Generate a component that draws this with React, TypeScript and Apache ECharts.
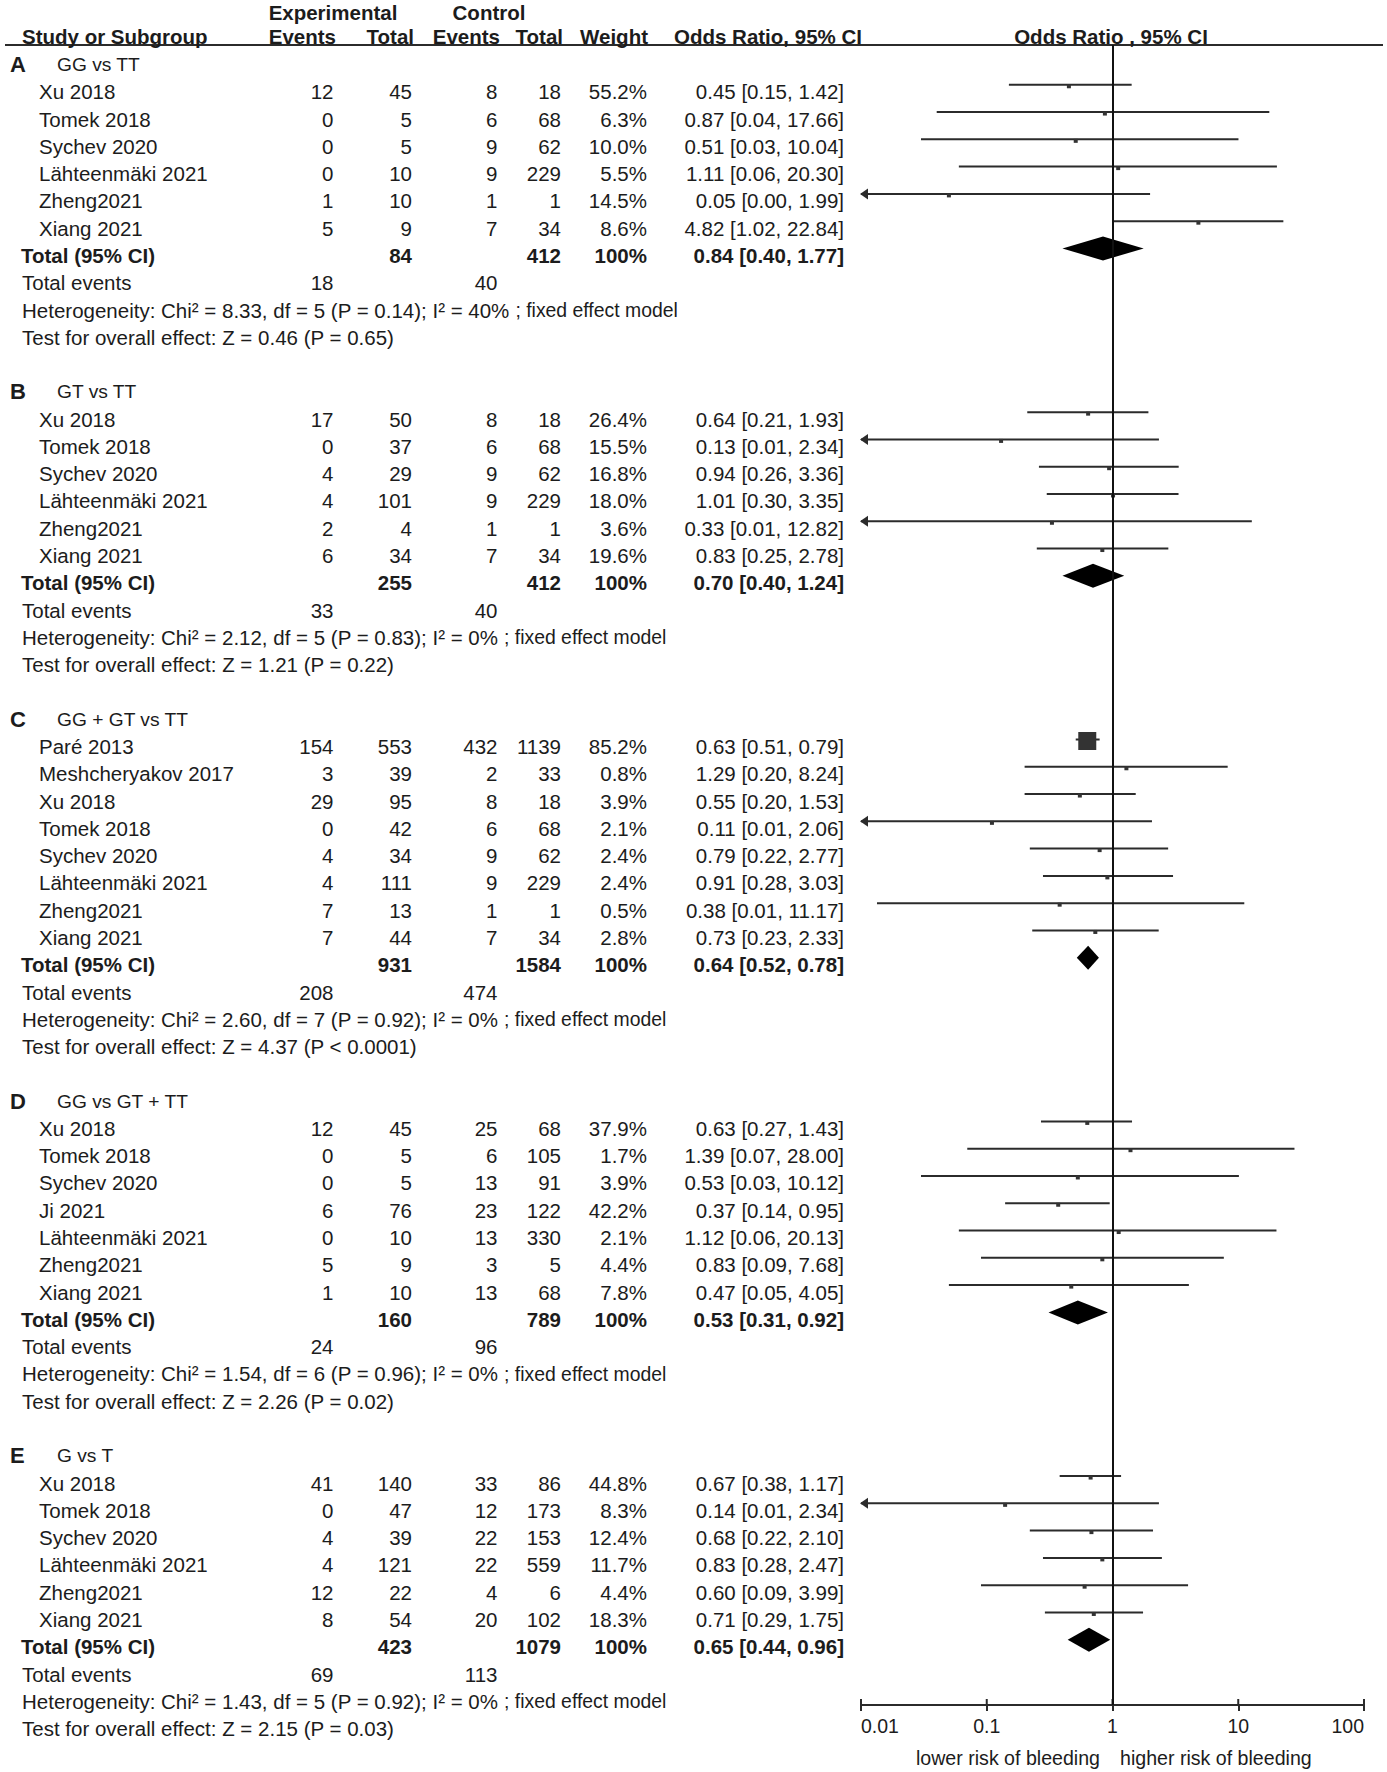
import React, { useEffect, useRef } from "react";
import * as echarts from "echarts";

// ---------------- data ----------------
const sectionLetters = ["A", "B", "C", "D", "E"];
const sectionTitles = ["GG vs TT", "GT vs TT", "GG + GT vs TT", "GG vs GT + TT", "G vs T"];

// A: GG vs TT
const studiesA = ["Xu 2018", "Tomek 2018", "Sychev 2020", "Lähteenmäki 2021", "Zheng2021", "Xiang 2021"];
const expEventsA = [12, 0, 0, 0, 1, 5];
const expTotalA = [45, 5, 5, 10, 10, 9];
const ctrlEventsA = [8, 6, 9, 9, 1, 7];
const ctrlTotalA = [18, 68, 62, 229, 1, 34];
const weightA = [55.2, 6.3, 10.0, 5.5, 14.5, 8.6];
const orA = [0.45, 0.87, 0.51, 1.11, 0.05, 4.82];
const loA = [0.15, 0.04, 0.03, 0.06, 0.004, 1.02];
const hiA = [1.42, 17.66, 10.04, 20.3, 1.99, 22.84];

// B: GT vs TT
const studiesB = ["Xu 2018", "Tomek 2018", "Sychev 2020", "Lähteenmäki 2021", "Zheng2021", "Xiang 2021"];
const expEventsB = [17, 0, 4, 4, 2, 6];
const expTotalB = [50, 37, 29, 101, 4, 34];
const ctrlEventsB = [8, 6, 9, 9, 1, 7];
const ctrlTotalB = [18, 68, 62, 229, 1, 34];
const weightB = [26.4, 15.5, 16.8, 18.0, 3.6, 19.6];
const orB = [0.64, 0.13, 0.94, 1.01, 0.33, 0.83];
const loB = [0.21, 0.008, 0.26, 0.3, 0.008, 0.25];
const hiB = [1.93, 2.34, 3.36, 3.35, 12.82, 2.78];

// C: GG + GT vs TT
const studiesC = ["Paré 2013", "Meshcheryakov 2017", "Xu 2018", "Tomek 2018", "Sychev 2020", "Lähteenmäki 2021", "Zheng2021", "Xiang 2021"];
const expEventsC = [154, 3, 29, 0, 4, 4, 7, 7];
const expTotalC = [553, 39, 95, 42, 34, 111, 13, 44];
const ctrlEventsC = [432, 2, 8, 6, 9, 9, 1, 7];
const ctrlTotalC = [1139, 33, 18, 68, 62, 229, 1, 34];
const weightC = [85.2, 0.8, 3.9, 2.1, 2.4, 2.4, 0.5, 2.8];
const orC = [0.63, 1.29, 0.55, 0.11, 0.79, 0.91, 0.38, 0.73];
const loC = [0.51, 0.2, 0.2, 0.007, 0.22, 0.28, 0.0134, 0.23];
const hiC = [0.79, 8.24, 1.53, 2.06, 2.77, 3.03, 11.17, 2.33];

// D: GG vs GT + TT
const studiesD = ["Xu 2018", "Tomek 2018", "Sychev 2020", "Ji 2021", "Lähteenmäki 2021", "Zheng2021", "Xiang 2021"];
const expEventsD = [12, 0, 0, 6, 0, 5, 1];
const expTotalD = [45, 5, 5, 76, 10, 9, 10];
const ctrlEventsD = [25, 6, 13, 23, 13, 3, 13];
const ctrlTotalD = [68, 105, 91, 122, 330, 5, 68];
const weightD = [37.9, 1.7, 3.9, 42.2, 2.1, 4.4, 7.8];
const orD = [0.63, 1.39, 0.53, 0.37, 1.12, 0.83, 0.47];
const loD = [0.27, 0.07, 0.03, 0.14, 0.06, 0.09, 0.05];
const hiD = [1.43, 28.0, 10.12, 0.95, 20.13, 7.68, 4.05];

// E: G vs T
const studiesE = ["Xu 2018", "Tomek 2018", "Sychev 2020", "Lähteenmäki 2021", "Zheng2021", "Xiang 2021"];
const expEventsE = [41, 0, 4, 4, 12, 8];
const expTotalE = [140, 47, 39, 121, 22, 54];
const ctrlEventsE = [33, 12, 22, 22, 4, 20];
const ctrlTotalE = [86, 173, 153, 559, 6, 102];
const weightE = [44.8, 8.3, 12.4, 11.7, 4.4, 18.3];
const orE = [0.67, 0.14, 0.68, 0.83, 0.6, 0.71];
const loE = [0.38, 0.008, 0.22, 0.28, 0.09, 0.29];
const hiE = [1.17, 2.34, 2.1, 2.47, 3.99, 1.75];

// subgroup totals
const totalExp = [84, 255, 931, 160, 423];
const totalCtrl = [412, 412, 1584, 789, 1079];
const pooledOR = [0.84, 0.7, 0.64, 0.53, 0.65];
const pooledLo = [0.4, 0.4, 0.52, 0.31, 0.44];
const pooledHi = [1.77, 1.24, 0.78, 0.92, 0.96];
const totalEventsExp = [18, 33, 208, 24, 69];
const totalEventsCtrl = [40, 40, 474, 96, 113];
const hetChi2 = [8.33, 2.12, 2.6, 1.54, 1.43];
const hetDf = [5, 5, 7, 6, 5];
const hetP = [0.14, 0.83, 0.92, 0.96, 0.92];
const hetI2 = [40, 0, 0, 0, 0];
const zValue = [0.46, 1.21, 4.37, 2.26, 2.15];
const zPText = ["P = 0.65", "P = 0.22", "P < 0.0001", "P = 0.02", "P = 0.03"];

const axisTicks = [0.01, 0.1, 1, 10, 100];
const favoursLeft = "lower risk of bleeding";
const favoursRight = "higher risk of bleeding";

// ---------------- layout ----------------
const W = 1387;
const H = 1772;
const FONT = '"Liberation Sans", Arial, Helvetica, sans-serif';
const TEXT = "#1c1c1c";
const LINE = "#2b2b2b";
const FS = 20.5;
const ROW_H = 27.28;
const FIRST_ROW_Y = 64.5;
const GRID_TOP = 45;
const AXIS_Y = 1705;
const GRID_LEFT = 861;
const GRID_RIGHT_X = 1364;
const MARK_DY = -7;
const X_MIN = 0.01;
const X_MAX = 100;
const COL = { ee: 333.5, et: 412, ce: 497.5, ct: 561, w: 647, ci: 844 };

const sections = [
  { st: studiesA, ee: expEventsA, et: expTotalA, ce: ctrlEventsA, ct: ctrlTotalA, w: weightA, or: orA, lo: loA, hi: hiA },
  { st: studiesB, ee: expEventsB, et: expTotalB, ce: ctrlEventsB, ct: ctrlTotalB, w: weightB, or: orB, lo: loB, hi: hiB },
  { st: studiesC, ee: expEventsC, et: expTotalC, ce: ctrlEventsC, ct: ctrlTotalC, w: weightC, or: orC, lo: loC, hi: hiC },
  { st: studiesD, ee: expEventsD, et: expTotalD, ce: ctrlEventsD, ct: ctrlTotalD, w: weightD, or: orD, lo: loD, hi: hiD },
  { st: studiesE, ee: expEventsE, et: expTotalE, ce: ctrlEventsE, ct: ctrlTotalE, w: weightE, or: orE, lo: loE, hi: hiE },
];

type Cell = { x: number; text: string; align: "left" | "right" | "center"; bold?: boolean; size?: number; rich?: boolean };
type TRow = { row: number; cells: Cell[] };

const fmtCI = (o: number, l: number, h: number) => `${o.toFixed(2)} [${l.toFixed(2)}, ${h.toFixed(2)}]`;
const pxToRow = (y: number) => (y - FIRST_ROW_Y) / ROW_H;

function buildRows() {
  const rows: TRow[] = [];
  const marks: number[][] = [];
  rows.push({
    row: pxToRow(12),
    cells: [
      { x: 333, text: "Experimental", align: "center", bold: true },
      { x: 489, text: "Control", align: "center", bold: true },
    ],
  });
  rows.push({
    row: pxToRow(36),
    cells: [
      { x: 22, text: "Study or Subgroup", align: "left", bold: true },
      { x: 336, text: "Events", align: "right", bold: true },
      { x: 414, text: "Total", align: "right", bold: true },
      { x: 500, text: "Events", align: "right", bold: true },
      { x: 563, text: "Total", align: "right", bold: true },
      { x: 648, text: "Weight", align: "right", bold: true },
      { x: 674, text: "Odds Ratio, 95% CI", align: "left", bold: true },
      { x: 1111, text: "Odds Ratio , 95% CI", align: "center", bold: true },
    ],
  });
  let r = 0;
  sections.forEach((s, si) => {
    rows.push({
      row: r,
      cells: [
        { x: 10, text: sectionLetters[si], align: "left", bold: true, size: 22 },
        { x: 57, text: sectionTitles[si], align: "left", size: 19.2 },
      ],
    });
    s.st.forEach((name, i) => {
      const row = r + 1 + i;
      rows.push({
        row,
        cells: [
          { x: 39, text: name, align: "left" },
          { x: COL.ee, text: String(s.ee[i]), align: "right" },
          { x: COL.et, text: String(s.et[i]), align: "right" },
          { x: COL.ce, text: String(s.ce[i]), align: "right" },
          { x: COL.ct, text: String(s.ct[i]), align: "right" },
          { x: COL.w, text: s.w[i].toFixed(1) + "%", align: "right" },
          { x: COL.ci, text: fmtCI(s.or[i], s.lo[i], s.hi[i]), align: "right" },
        ],
      });
      marks.push([s.or[i], s.lo[i], s.hi[i], row, s.w[i], 0]);
    });
    const n = s.st.length;
    const tr = r + n + 1;
    rows.push({
      row: tr,
      cells: [
        { x: 21, text: "Total (95% CI)", align: "left", bold: true },
        { x: COL.et, text: String(totalExp[si]), align: "right", bold: true },
        { x: COL.ct, text: String(totalCtrl[si]), align: "right", bold: true },
        { x: COL.w, text: "100%", align: "right", bold: true },
        { x: COL.ci, text: fmtCI(pooledOR[si], pooledLo[si], pooledHi[si]), align: "right", bold: true },
      ],
    });
    marks.push([pooledOR[si], pooledLo[si], pooledHi[si], tr, 100, 1]);
    rows.push({
      row: tr + 1,
      cells: [
        { x: 22, text: "Total events", align: "left" },
        { x: COL.ee, text: String(totalEventsExp[si]), align: "right" },
        { x: COL.ce, text: String(totalEventsCtrl[si]), align: "right" },
      ],
    });
    rows.push({
      row: tr + 2,
      cells: [
        {
          x: 22,
          text: `Heterogeneity: Chi² = ${hetChi2[si].toFixed(2)}, df = ${hetDf[si]} (P = ${hetP[si].toFixed(2)}); I² = ${hetI2[si]}% {s|; fixed effect model}`,
          align: "left",
          rich: true,
        },
      ],
    });
    rows.push({
      row: tr + 3,
      cells: [{ x: 22, text: `Test for overall effect: Z = ${zValue[si].toFixed(2)} (${zPText[si]})`, align: "left" }],
    });
    r += n + 6;
  });
  return { rows, marks };
}

const fmtTick = (v: number) => {
  const m = axisTicks.find((t) => Math.abs(Math.log10(t) - Math.log10(v)) < 1e-6);
  return m !== undefined ? String(m) : "";
};

export default function App() {
  const ref = useRef<HTMLDivElement>(null);
  useEffect(() => {
    document.body.style.margin = "0";
    if (!ref.current) return;
    const chart = echarts.init(ref.current, undefined, { renderer: "svg" });
    const { rows, marks } = buildRows();
    const yMin = pxToRow(GRID_TOP);
    const yMax = pxToRow(AXIS_Y);

    chart.setOption({
      animation: false,
      backgroundColor: "#ffffff",
      grid: { left: GRID_LEFT, right: W - GRID_RIGHT_X, top: GRID_TOP, bottom: H - AXIS_Y, containLabel: false },
      xAxis: {
        type: "log",
        logBase: 10,
        min: X_MIN,
        max: X_MAX,
        position: "bottom",
        splitLine: { show: false },
        minorTick: { show: false },
        axisLine: { show: true, onZero: false, lineStyle: { color: LINE, width: 2 } },
        axisTick: { show: true, length: 6, lineStyle: { color: LINE, width: 2 } },
        axisLabel: {
          show: true,
          color: TEXT,
          fontSize: 19.5,
          fontFamily: FONT,
          margin: 11,
          formatter: (v: number) => fmtTick(v),
          alignMinLabel: "left",
          alignMaxLabel: "right",
        },
      },
      yAxis: { type: "value", inverse: true, min: yMin, max: yMax, show: false },
      graphic: [
        { type: "line", shape: { x1: 5, y1: GRID_TOP, x2: 1383, y2: GRID_TOP }, style: { stroke: LINE, lineWidth: 2 } },
        {
          type: "text",
          style: { text: favoursLeft, x: 1100, y: 1758, align: "right", verticalAlign: "middle", fill: TEXT, fontSize: 19.6, fontFamily: FONT },
        },
        {
          type: "text",
          style: { text: favoursRight, x: 1120, y: 1758, align: "left", verticalAlign: "middle", fill: TEXT, fontSize: 19.6, fontFamily: FONT },
        },
      ],
      series: [
        {
          type: "custom",
          name: "table",
          clip: false,
          silent: true,
          coordinateSystem: "cartesian2d",
          encode: { x: 0, y: 1 },
          data: rows.map((t) => [1, t.row]),
          renderItem: (params: any, api: any) => {
            const tr = rows[params.dataIndex];
            const y = api.coord([1, api.value(1)])[1];
            return {
              type: "group",
              children: tr.cells.map((c) => ({
                type: "text",
                style: {
                  text: c.text,
                  x: c.x,
                  y,
                  align: c.align,
                  verticalAlign: "middle",
                  fill: TEXT,
                  fontFamily: FONT,
                  fontSize: c.size || FS,
                  fontWeight: c.bold ? "bold" : "normal",
                  rich: c.rich ? { s: { fontSize: 19.4, fontFamily: FONT, fill: TEXT } } : undefined,
                },
              })),
            };
          },
        },
        {
          // upward half of the axis ticks (ticks cross the axis line)
          type: "custom",
          name: "ticksUp",
          clip: false,
          silent: true,
          coordinateSystem: "cartesian2d",
          encode: { x: 0, y: 1 },
          data: axisTicks.map((t) => [t, pxToRow(AXIS_Y)]),
          renderItem: (params: any, api: any) => {
            const p = api.coord([api.value(0), api.value(1)]);
            return { type: "line", shape: { x1: p[0], y1: p[1], x2: p[0], y2: p[1] - 6 }, style: { stroke: LINE, lineWidth: 2 } };
          },
        },
        {
          type: "custom",
          name: "forest",
          clip: false,
          silent: true,
          coordinateSystem: "cartesian2d",
          encode: { x: 0, y: 3 },
          data: marks,
          renderItem: (params: any, api: any) => {
            const or = api.value(0);
            const lo = api.value(1);
            const hi = api.value(2);
            const row = api.value(3);
            const w = api.value(4);
            const isTotal = api.value(5);
            const yc = api.coord([1, row])[1] + MARK_DY;
            const xl = api.coord([Math.max(lo, X_MIN), row])[0];
            const xh = api.coord([Math.min(hi, X_MAX), row])[0];
            const xo = api.coord([or, row])[0];
            if (isTotal) {
              return {
                type: "polygon",
                shape: { points: [[xl, yc], [xo, yc - 12], [xh, yc], [xo, yc + 12]] },
                style: { fill: "#000" },
              };
            }
            const children: any[] = [
              { type: "line", shape: { x1: xl, y1: yc, x2: xh, y2: yc }, style: { stroke: LINE, lineWidth: 2 } },
            ];
            const sz = w >= 80 ? 18 : 4;
            children.push({
              type: "rect",
              shape: { x: xo - sz / 2, y: yc + 1.5 - sz / 2, width: sz, height: sz },
              style: { fill: "#333" },
            });
            if (lo < X_MIN) {
              children.push({
                type: "polygon",
                shape: { points: [[xl - 1, yc], [xl + 7, yc - 5.5], [xl + 7, yc + 5.5]] },
                style: { fill: LINE },
              });
            }
            if (hi > X_MAX) {
              children.push({
                type: "polygon",
                shape: { points: [[xh + 1, yc], [xh - 7, yc - 5.5], [xh - 7, yc + 5.5]] },
                style: { fill: LINE },
              });
            }
            return { type: "group", children };
          },
          markLine: {
            silent: true,
            symbol: "none",
            label: { show: false },
            lineStyle: { color: "#111", width: 2, type: "solid" },
            data: [{ xAxis: 1 }],
          },
        },
      ],
    });
    return () => chart.dispose();
  }, []);
  return <div ref={ref} style={{ width: W, height: H }} />;
}
